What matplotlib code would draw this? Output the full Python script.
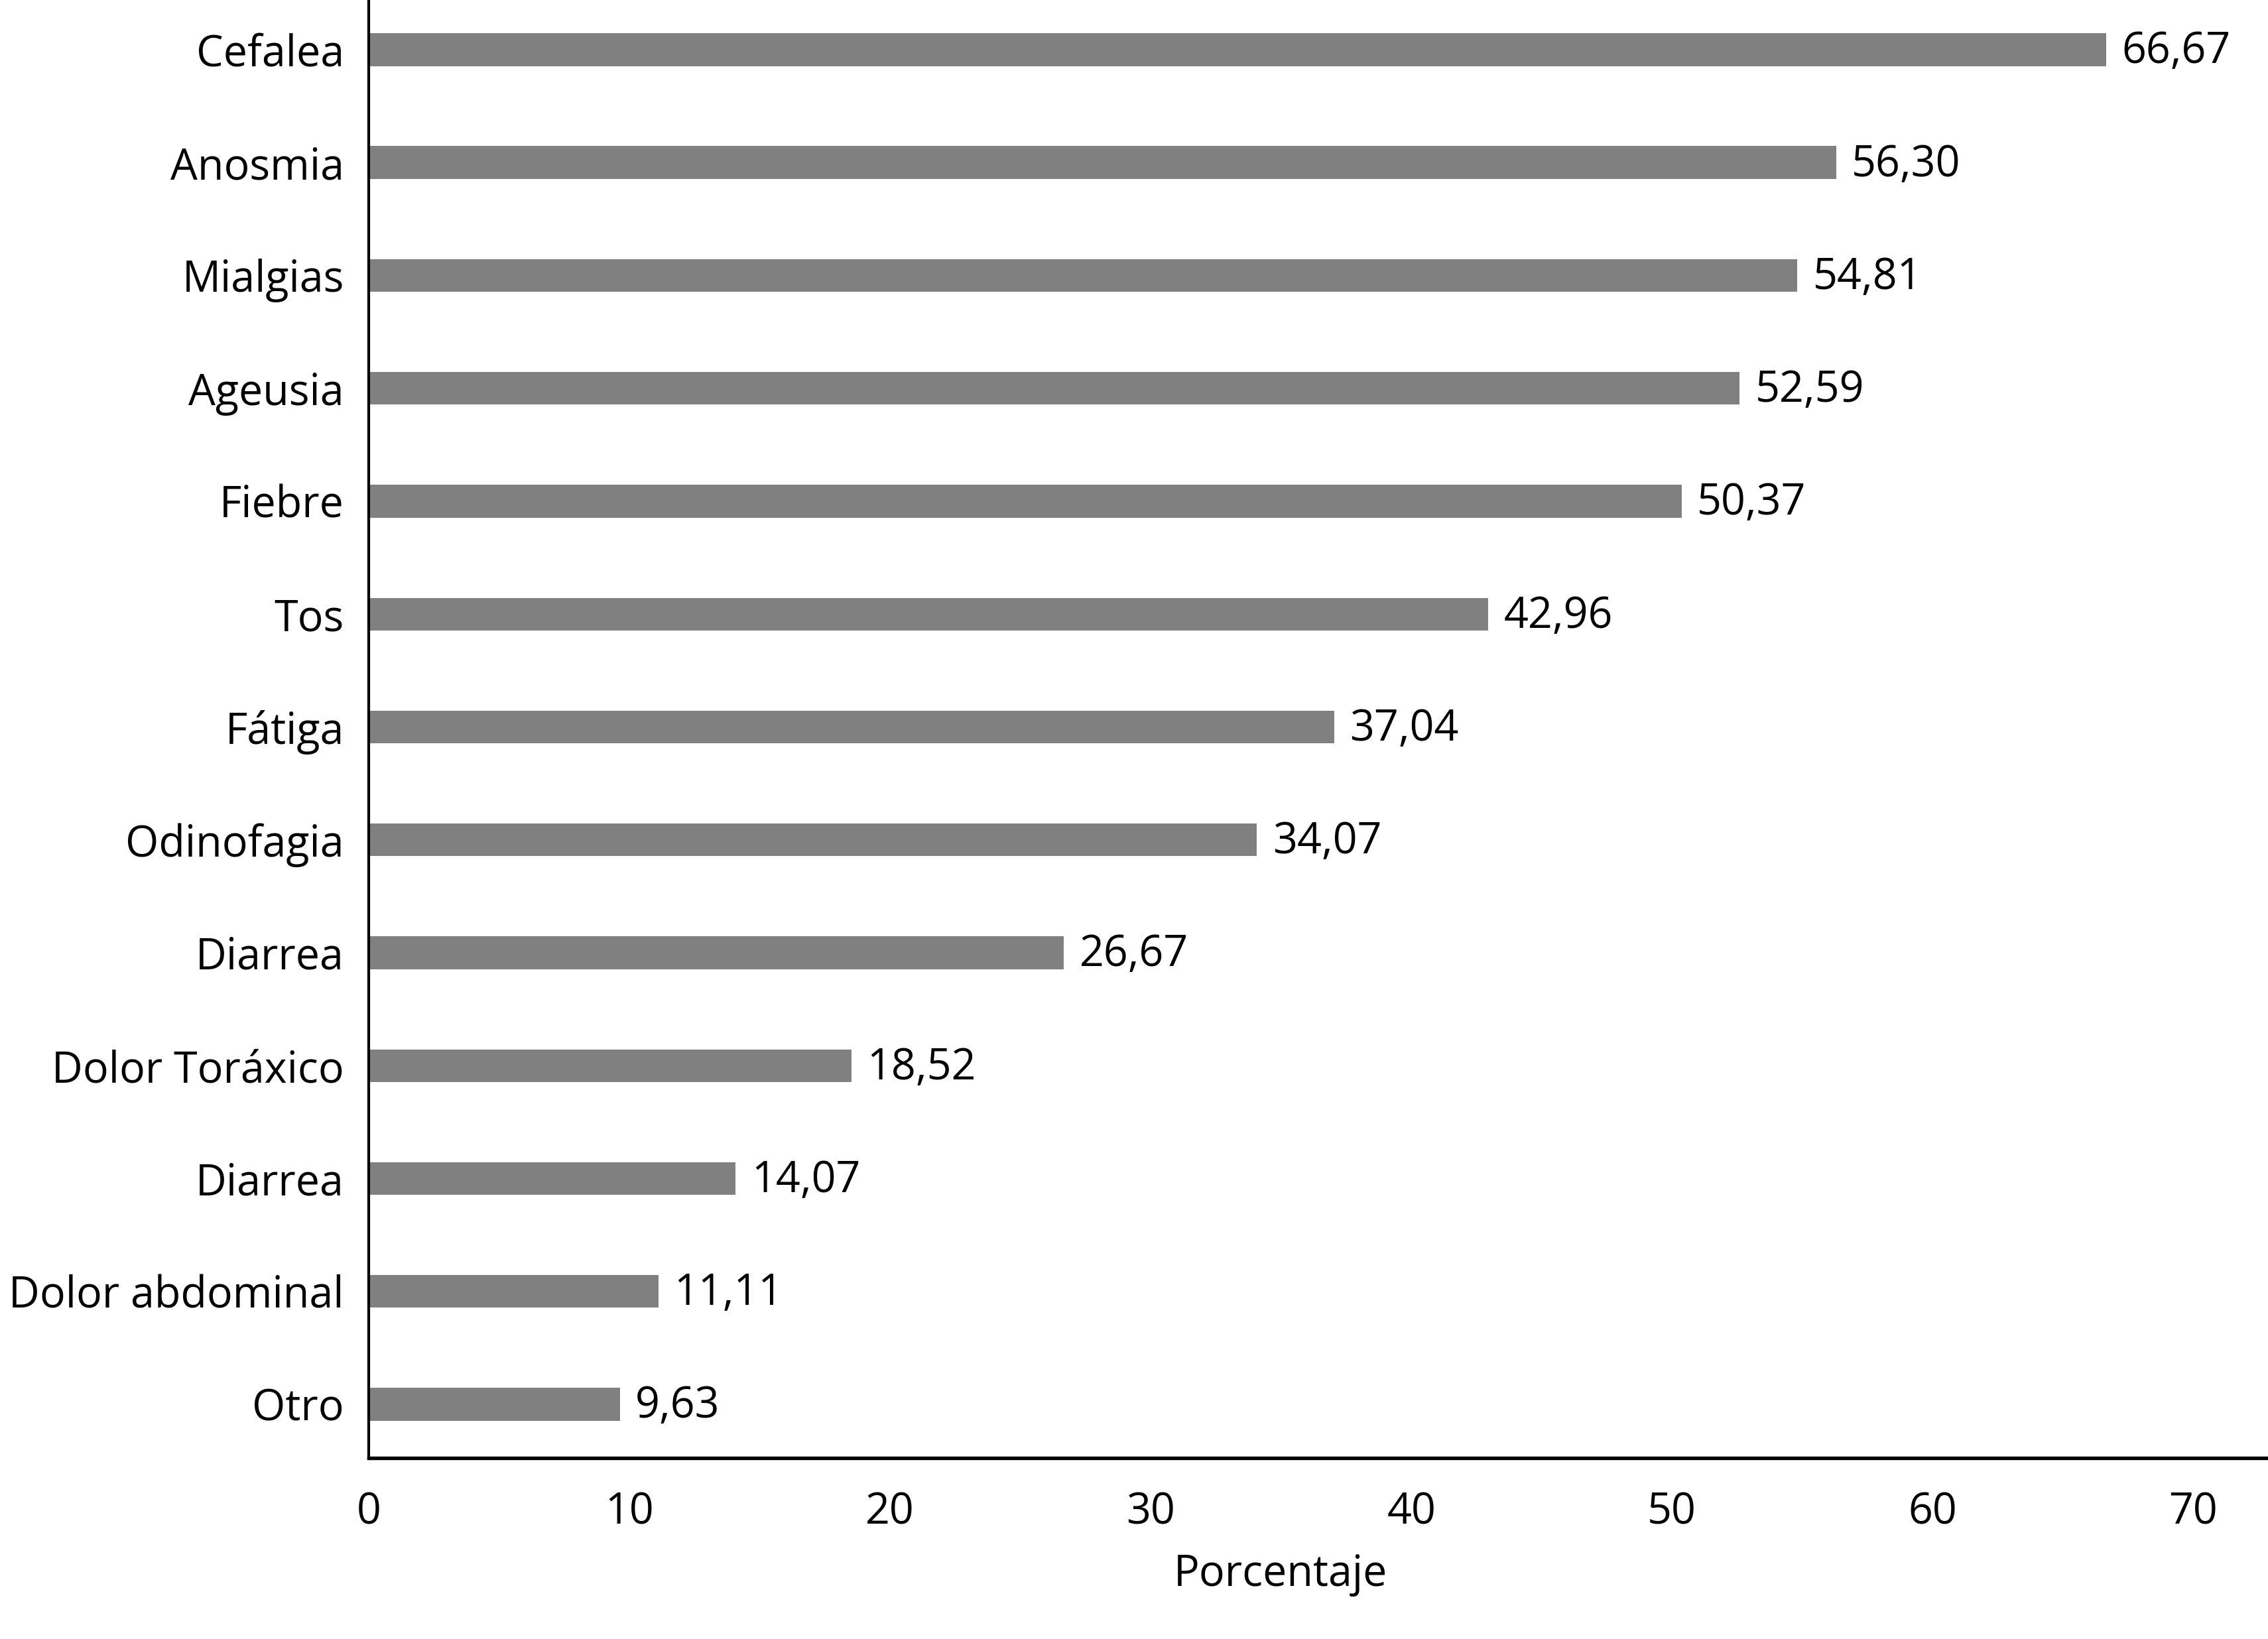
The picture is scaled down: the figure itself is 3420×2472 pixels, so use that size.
import matplotlib
matplotlib.use("Agg")
import matplotlib.pyplot as plt

sintomas = ['Cefalea', 'Anosmia', 'Mialgias', 'Ageusia', 'Fiebre', 'Tos', 'Fátiga',
            'Odinofagia', 'Diarrea', 'Dolor Toráxico', 'Diarrea', 'Dolor abdominal', 'Otro']
porcentajes = [66.67, 56.30, 54.81, 52.59, 50.37, 42.96, 37.04,
               34.07, 26.67, 18.52, 14.07, 11.11, 9.63]
x_ticks = [0, 10, 20, 30, 40, 50, 60, 70]

plt.rcParams['font.family'] = ['Open Sans', 'DejaVu Sans']

fig = plt.figure(figsize=(11.403, 8.24), dpi=300)
ax = fig.add_axes([0.1626, 0.1105, 0.8374, 0.8895])

pos = list(range(len(sintomas)))
ax.barh(pos, porcentajes, height=0.29, color='#808080')

for p, v in zip(pos, porcentajes):
    ax.text(v + 0.6, p + 0.02, f"{v:.2f}".replace('.', ','), va='center', ha='left',
            fontsize=15.5)

ax.set_yticks(pos)
ax.set_yticklabels(sintomas, fontsize=15.5)
ax.set_xticks(x_ticks)
ax.set_xticklabels([str(t) for t in x_ticks], fontsize=15.5)
ax.set_xlim(0, 72.9)
ax.set_ylim(12.475, -0.44)
ax.tick_params(axis='both', length=0)
ax.tick_params(axis='x', pad=12)
ax.tick_params(axis='y', pad=9)

ax.set_xlabel('Porcentaje', fontsize=15.5)
ax.xaxis.set_label_coords(0.48, -0.065)

for s in ['top', 'right']:
    ax.spines[s].set_visible(False)
ax.spines['left'].set_linewidth(1.0)
ax.spines['bottom'].set_linewidth(1.3)

fig.savefig('out.png', dpi=300)
